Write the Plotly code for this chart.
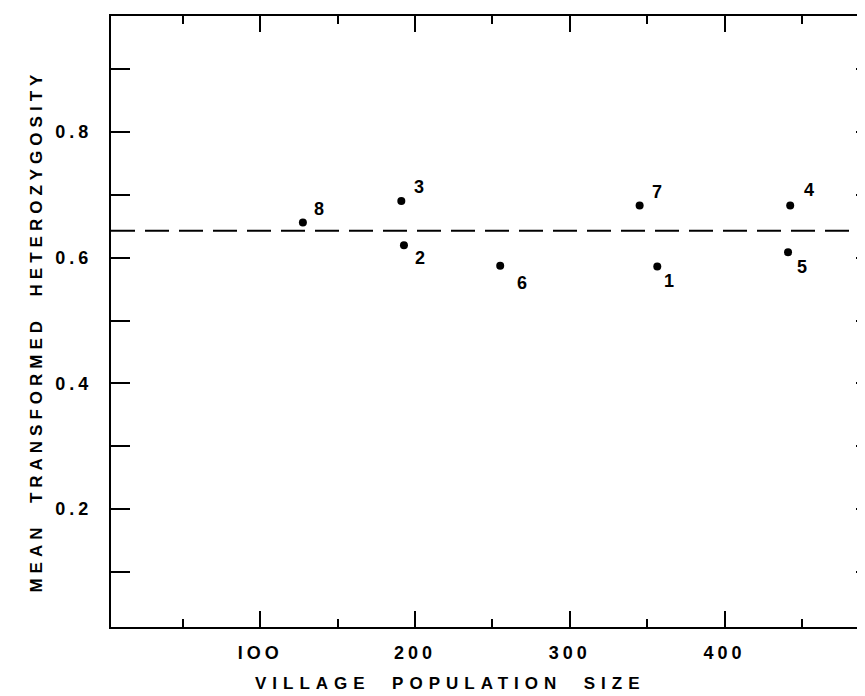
import plotly.graph_objects as go

# Data
village_ids = ["1", "2", "3", "4", "5", "6", "7", "8"]
population_size = [356.5, 192.8, 191.1, 442.4, 441.0, 255.0, 345.1, 127.5]
mean_heterozygosity = [0.586, 0.620, 0.690, 0.683, 0.6085, 0.587, 0.683, 0.656]
overall_mean = 0.643

x_tick_vals = [100, 200, 300, 400]
x_tick_text = ["IOO", "200", "300", "400"]
y_tick_vals = [0.2, 0.4, 0.6, 0.8]
y_tick_text = ["0.2", "0.4", "0.6", "0.8"]

x_title = "VILLAGE  POPULATION  SIZE"
y_title = "MEAN  TRANSFORMED  HETEROZYGOSITY"

# label offsets (pixels) for point labels
label_dx = {"1": 12, "2": 16, "3": 18, "4": 19, "5": 14, "6": 22, "7": 17, "8": 16}
label_dy = {"1": -14, "2": -13, "3": 14, "4": 16, "5": -15, "6": -17, "7": 14, "8": 14}

FONT = "Liberation Sans"
x_range = [3.5, 495.9]
y_range = [0.0125, 0.9845]


def spaced(s, px):
    return f'<span style="letter-spacing:{px}px">{s}</span>'


fig = go.Figure()

fig.add_trace(go.Scatter(
    x=x_range, y=[overall_mean, overall_mean], mode="lines",
    line=dict(color="black", width=2, dash="24px,10px"),
    hoverinfo="skip", showlegend=False,
))

fig.add_trace(go.Scatter(
    x=population_size, y=mean_heterozygosity, mode="markers",
    marker=dict(color="black", size=8),
    showlegend=False,
))

# invisible trace for the right-hand tick axis
fig.add_trace(go.Scatter(
    x=population_size, y=mean_heterozygosity, mode="markers", yaxis="y2",
    marker=dict(opacity=0), showlegend=False, hoverinfo="skip",
))

for vid, xv, yv in zip(village_ids, population_size, mean_heterozygosity):
    fig.add_annotation(
        x=xv, y=yv, text=vid, showarrow=False,
        xshift=label_dx[vid], yshift=label_dy[vid],
        font=dict(family=FONT, size=18, color="black", weight="bold"),
    )

fig.add_annotation(
    xref="paper", yref="paper", x=0.446, y=-0.093,
    xanchor="center", yanchor="middle", showarrow=False,
    text=spaced(x_title, 6),
    font=dict(family=FONT, size=17, color="black", weight="bold"),
)
fig.add_annotation(
    xref="paper", yref="paper", x=-0.098, y=0.484,
    xanchor="center", yanchor="middle", showarrow=False, textangle=-90,
    text=spaced(y_title, 5),
    font=dict(family=FONT, size=17, color="black", weight="bold"),
)

fig.update_layout(
    width=865, height=696,
    margin=dict(l=103, r=0, t=8, b=77),
    plot_bgcolor="white", paper_bgcolor="white",
    xaxis=dict(
        range=x_range, showgrid=False, zeroline=False, automargin=False,
        showline=True, linecolor="black", linewidth=2, mirror="ticks",
        ticks="inside", ticklen=16, tickwidth=2, tickcolor="black",
        tickvals=x_tick_vals, ticktext=[spaced(t, 4) for t in x_tick_text],
        minor=dict(dtick=50, tick0=0, ticks="inside", ticklen=8, tickwidth=2, tickcolor="black"),
        tickfont=dict(family=FONT, size=18, color="black", weight="bold"),
        ticklabelstandoff=8,
    ),
    yaxis=dict(
        range=y_range, showgrid=False, zeroline=False, automargin=False,
        showline=True, linecolor="black", linewidth=2,
        ticks="inside", ticklen=19, tickwidth=2, tickcolor="black",
        tickvals=y_tick_vals, ticktext=[spaced(t, 4) for t in y_tick_text],
        minor=dict(dtick=0.1, tick0=0, ticks="inside", ticklen=19, tickwidth=2, tickcolor="black"),
        tickfont=dict(family=FONT, size=18, color="black", weight="bold"),
        ticklabelstandoff=13,
    ),
    yaxis2=dict(
        range=y_range, overlaying="y", side="right", showgrid=False, zeroline=False,
        automargin=False, showline=False, ticks="inside", ticklen=17, tickwidth=2,
        tickcolor="black", dtick=0.1, tick0=0, showticklabels=False,
    ),
)

fig.write_html("out.html")
